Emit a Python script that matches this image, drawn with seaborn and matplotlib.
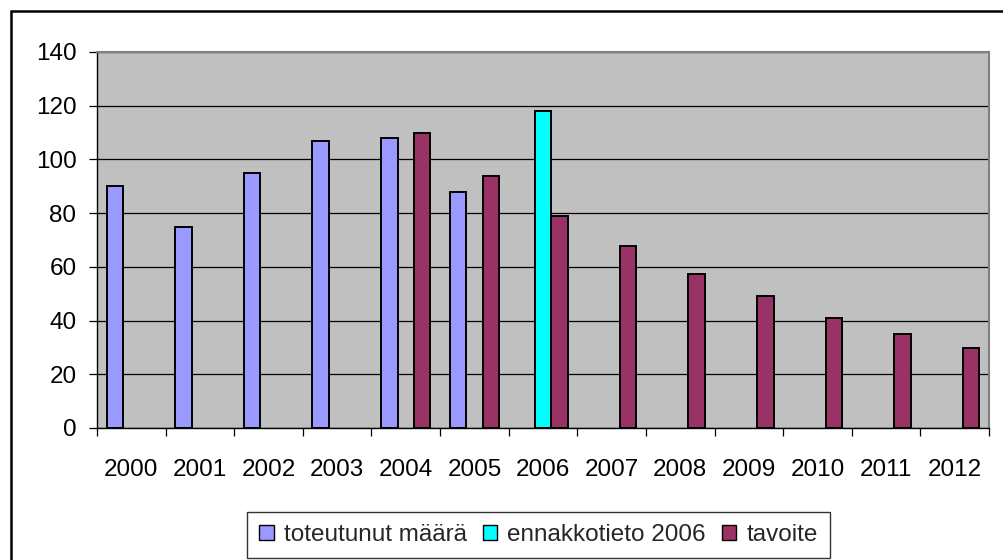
import numpy as np
import pandas as pd
import matplotlib
matplotlib.use("Agg")
import matplotlib.pyplot as plt
from matplotlib.patches import Patch, Rectangle
import seaborn as sns

years = ["2000", "2001", "2002", "2003", "2004", "2005", "2006",
         "2007", "2008", "2009", "2010", "2011", "2012"]
series_names = ["toteutunut määrä", "ennakkotieto 2006", "tavoite"]
toteutunut = [90, 75, 95, 107, 108, 88, None, None, None, None, None, None, None]
ennakko = [None, None, None, None, None, None, 118, None, None, None, None, None, None]
tavoite = [None, None, None, None, 110, 94, 79, 67.7, 57.3, 49.2, 41, 35, 29.8]
colors = ["#9999FF", "#00FFFF", "#993366"]
y_ticks = [0, 20, 40, 60, 80, 100, 120, 140]

rows = []
for name, vals in zip(series_names, [toteutunut, ennakko, tavoite]):
    for yr, v in zip(years, vals):
        if v is not None:
            rows.append({"year": yr, "series": name, "value": v})
df = pd.DataFrame(rows)

sns.set_theme(style="white")
plt.rcParams["font.family"] = ["Liberation Sans", "DejaVu Sans"]

FS = 17.5
W, H = 1004, 560
fig = plt.figure(figsize=(W / 100, H / 100), dpi=100)
ax = fig.add_axes([97 / W, 1 - 428 / H, (989 - 97) / W, (428 - 52) / H])
ax.set_facecolor("#C0C0C0")

sns.barplot(data=df, x="year", y="value", hue="series", order=years,
            hue_order=series_names, palette=colors, saturation=1,
            width=0.72, dodge=True, errorbar=None, edgecolor="black",
            linewidth=1.4, ax=ax, legend=False, zorder=3)

ax.set_xlim(-0.5, len(years) - 0.5)
ax.set_ylim(0, 140)
ax.set_yticks(y_ticks)
ax.set_yticklabels([str(t) for t in y_ticks])
ax.yaxis.grid(True, color="black", linewidth=0.9, zorder=1)
ax.set_axisbelow(True)

# category boundary ticks (major), labels at centers (minor)
ax.set_xticks(np.arange(-0.5, len(years), 1.0))
ax.set_xticklabels([])
ax.set_xticks(np.arange(len(years)), minor=True)
ax.set_xticklabels(years, minor=True)
ax.tick_params(axis="x", which="major", direction="out", length=5.5,
               width=0.9, color="black", bottom=True)
ax.tick_params(axis="x", which="minor", length=0, pad=22, labelsize=FS,
               labelcolor="black")
ax.tick_params(axis="y", direction="out", length=5.8, width=0.9,
               color="black", left=True, pad=9, labelsize=FS,
               labelcolor="black")
ax.set_xlabel("")
ax.set_ylabel("")

for s in ["left", "bottom"]:
    ax.spines[s].set_color("black")
    ax.spines[s].set_linewidth(1.0)
for s in ["top", "right"]:
    ax.spines[s].set_color("#808080")
    ax.spines[s].set_linewidth(1.5)
for s in ax.spines.values():
    s.set_zorder(4)

handles = [Patch(facecolor=c, edgecolor="black", linewidth=1.0) for c in colors]
leg = fig.legend(handles, series_names, loc="upper center",
                 bbox_to_anchor=(538.5 / W, 1 - 512 / H),
                 bbox_transform=fig.transFigure, ncol=3, frameon=True,
                 fancybox=False, edgecolor="black", fontsize=FS,
                 handlelength=0.6, handleheight=0.6, handletextpad=0.42,
                 columnspacing=0.65, borderpad=0.5, borderaxespad=0)
leg.get_frame().set_linewidth(1.0)

# outer chart-area border (clipped at right and bottom, like the reference)
fig.patches.append(Rectangle((11 / W, -0.2), 1.2, 1.2 - 10.5 / H,
                             transform=fig.transFigure, fill=False,
                             edgecolor="black", linewidth=1.8))

fig.savefig("out.png", dpi=100)
